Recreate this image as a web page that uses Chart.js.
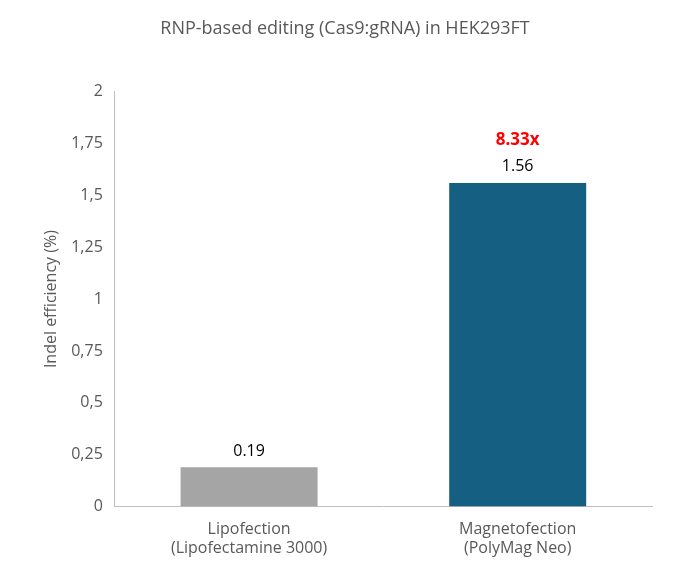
<!DOCTYPE html>
<html>
<head>
<meta charset="utf-8">
<script src="https://cdn.jsdelivr.net/npm/chart.js@4/dist/chart.umd.min.js"></script>
<style>
  html, body { margin: 0; padding: 0; background: #fff; }
  #wrap { width: 693px; height: 579px; }
</style>
</head>
<body>
<div id="wrap"><canvas id="chart"></canvas></div>
<script>
// ====================== Data ======================
const CATEGORIES = [["Lipofection", "(Lipofectamine 3000)"], ["Magnetofection", "(PolyMag Neo)"]];
const VALUES = [0.19, 1.56];
const BAR_COLORS = ["#a5a5a5", "#156082"];
const FOLD_LABEL = "8.33x";
const Y_TICKS = [0, 0.25, 0.5, 0.75, 1, 1.25, 1.5, 1.75, 2];

const FONT = "'Open Sans', 'Liberation Sans', sans-serif";

// ====================== Labels plugin ======================
const labelPlugin = {
  id: "barLabels",
  afterDatasetsDraw(chart) {
    const ctx = chart.ctx;
    const meta = chart.getDatasetMeta(0);
    ctx.save();
    ctx.textAlign = "center";
    ctx.textBaseline = "bottom";
    meta.data.forEach((bar, i) => {
      ctx.fillStyle = "#000";
      ctx.font = "16px " + FONT;
      ctx.fillText(String(VALUES[i]), bar.x, bar.y - 8);
    });
    const last = meta.data[meta.data.length - 1];
    ctx.fillStyle = "#ff0000";
    ctx.font = "bold 17px " + FONT;
    ctx.fillText(FOLD_LABEL, last.x, last.y - 34);
    ctx.restore();
  }
};

new Chart(document.getElementById("chart"), {
  type: "bar",
  data: {
    labels: CATEGORIES,
    datasets: [{
      data: VALUES,
      backgroundColor: BAR_COLORS,
      barPercentage: 0.51,
      categoryPercentage: 1
    }]
  },
  options: {
    responsive: true,
    maintainAspectRatio: false,
    animation: false,
    layout: { padding: { top: 10, right: 41, bottom: 8, left: 38 } },
    plugins: {
      legend: { display: false },
      tooltip: { enabled: false },
      title: {
        display: true,
        text: "RNP-based editing (Cas9:gRNA) in HEK293FT",
        color: "#595959",
        font: { family: FONT, size: 18, weight: "normal" },
        padding: { top: 8, bottom: 52 }
      }
    },
    scales: {
      x: {
        grid: { display: false, drawTicks: false },
        border: { color: "#bfbfbf" },
        ticks: { color: "#595959", font: { family: FONT, size: 16 }, padding: 13 }
      },
      y: {
        min: 0,
        max: 2,
        afterBuildTicks(axis) { axis.ticks = Y_TICKS.map(v => ({ value: v })); },
        grid: { display: false, drawTicks: true, tickLength: 6, tickColor: "#bfbfbf" },
        border: { color: "#bfbfbf" },
        ticks: {
          color: "#595959",
          font: { family: FONT, size: 16 },
          padding: 6,
          callback: v => String(v).replace(".", ",")
        },
        title: {
          display: true,
          text: "Indel efficiency (%)",
          color: "#595959",
          font: { family: FONT, size: 16 }
        }
      }
    }
  },
  plugins: [labelPlugin]
});
</script>
</body>
</html>
